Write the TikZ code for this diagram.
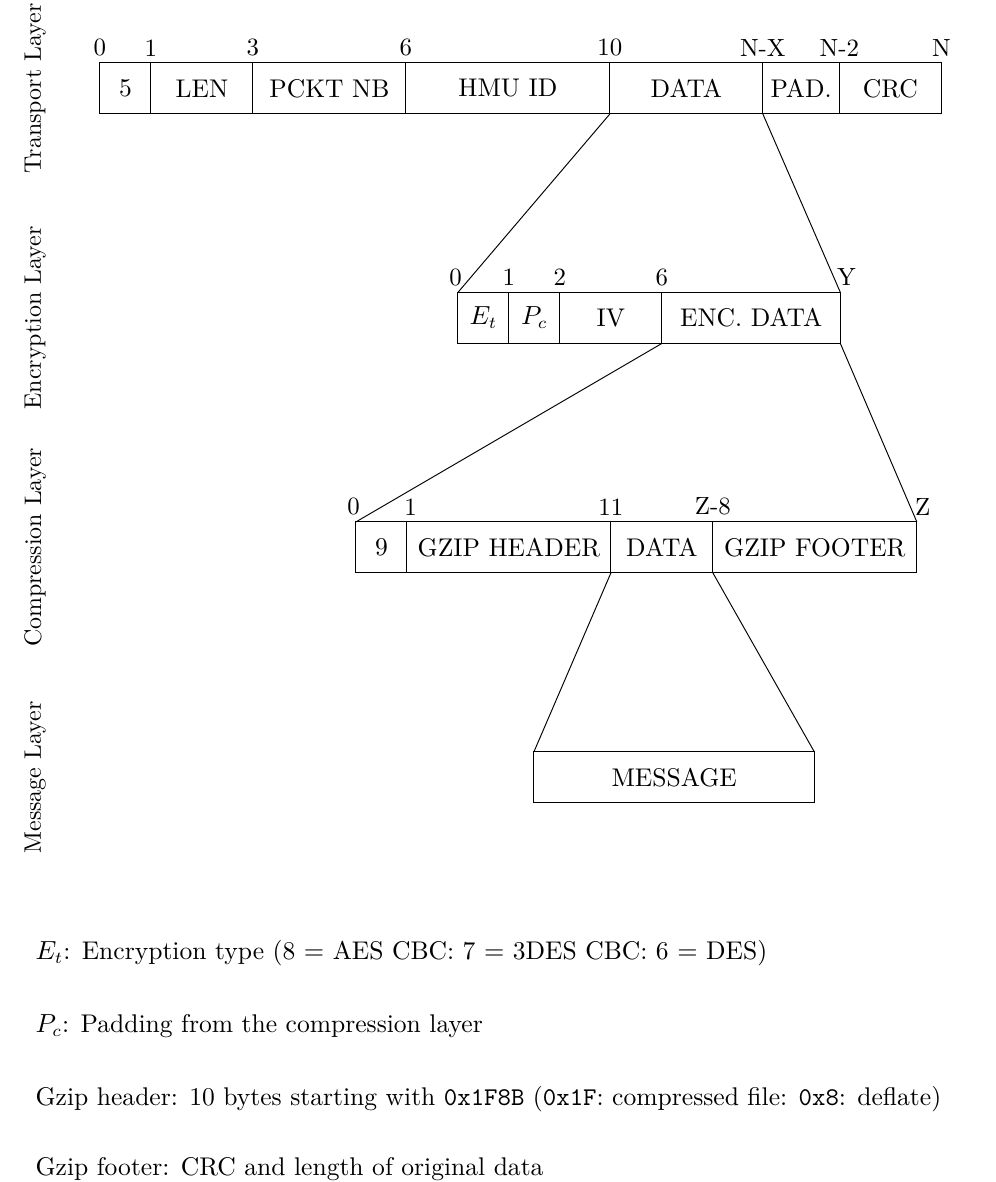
\documentclass[tikz,border=0pt]{standalone}
\usepackage{amsmath}
\usepackage{fontspec}
\usepackage{tikz}
\usetikzlibrary{positioning}
\tikzset{field/.style = {draw, minimum width = #1*0.75cm, minimum height = 0.75cm,
    inner sep = 0pt, outer sep = 0pt, font = \fontsize{10.7}{13}\selectfont},
  byte/.style = {above, inner sep = 2.5pt, font = \fontsize{10.4}{12}\selectfont},
  layer/.style = {rotate = 90},
  note/.style = {anchor = base west, inner sep = 0pt, font = \fontsize{10.7}{13}\selectfont}}

\begin{document}
\begin{tikzpicture}[x = 0.75cm, y = -0.75cm]
  \useasboundingbox (0,0) rectangle (19.53,23.18);
  % layers
  \node [layer] (ltrans) at (0.69,1.735) {Transport Layer};
  \node [layer] (lenc) at (0.69,6.235) {Encryption Layer};
  \node [layer] (lcomp) at (0.69,10.735) {Compression Layer};
  \node [layer] (lmsg) at (0.69,15.245) {Message Layer};
  % transport layer
  \node [field = 1, anchor = west] (t0) at (1.96,1.735) {5};
  \node [field = 2, right = 0pt of t0] (t1) {LEN};
  \node [field = 3, right = 0pt of t1] (t2) {PCKT NB};
  \node [field = 4, right = 0pt of t2] (t3) {HMU ID};
  \node [field = 3, right = 0pt of t3] (t4) {DATA};
  \node [field = 1.5, right = 0pt of t4] (t5) {PAD.};
  \node [field = 2, right = 0pt of t5] (t6) {CRC};
  \node [byte] at (t0.north west) {0};
  \node [byte] at (t1.north west) {1};
  \node [byte] at (t2.north west) {3};
  \node [byte] at (t3.north west) {6};
  \node [byte] at (t4.north west) {10};
  \node [byte] at (t5.north west) {N-X};
  \node [byte] at (t6.north west) {N-2};
  \node [byte] at (t6.north east) {N};
  % encryption layer
  \node [field = 1, anchor = west] (e0) at (8.98,6.235) {$E_t$};
  \node [field = 1, right = 0pt of e0] (e1) {$P_c$};
  \node [field = 2, right = 0pt of e1] (e2) {IV};
  \node [field = 3.5, right = 0pt of e2] (e3) {ENC. DATA};
  \node [byte, xshift = -1pt] at (e0.north west) {0};
  \node [byte] at (e1.north west) {1};
  \node [byte] at (e2.north west) {2};
  \node [byte] at (e3.north west) {6};
  \node [byte, xshift = 2.5pt] at (e3.north east) {Y};
  % compression layer
  \node [field = 1, anchor = west] (c0) at (6.98,10.735) {9};
  \node [field = 4, right = 0pt of c0] (c1) {GZIP HEADER};
  \node [field = 2, right = 0pt of c1] (c2) {DATA};
  \node [field = 4, right = 0pt of c2] (c3) {GZIP FOOTER};
  \node [byte, xshift = -1pt] at (c0.north west) {0};
  \node [byte, xshift = 1.5pt] at (c1.north west) {1};
  \node [byte] at (c2.north west) {11};
  \node [byte] at (c3.north west) {Z-8};
  \node [byte, xshift = 2.5pt] at (c3.north east) {Z};
  % message layer
  \node [field = 5.5, anchor = west] (m0) at (10.47,15.245) {MESSAGE};
  % paths
  \draw (t4.south west) -- (e0.north west);
  \draw (t4.south east) -- (e3.north east);
  \draw (e3.south west) -- (c0.north west);
  \draw (e3.south east) -- (c3.north east);
  \draw (c2.south west) -- (m0.north west);
  \draw (c2.south east) -- (m0.north east);
  % notes
  \node [note] (n1) at (0.69,18.82) {$E_t$: Encryption type (8 $=$ AES CBC: 7 $=$ 3DES CBC: 6 $=$ DES)};
  \node [note] (n2) at (0.69,20.24) {$P_c$: Padding from the compression layer};
  \node [note] (n3) at (0.69,21.67) {Gzip header: 10 bytes starting with \texttt{0x1F8B} (\texttt{0x1F}: compressed file: \texttt{0x8}: deflate)};
  \node [note] (n4) at (0.69,23.06) {Gzip footer: CRC and length of original data};
\end{tikzpicture}
\end{document}
